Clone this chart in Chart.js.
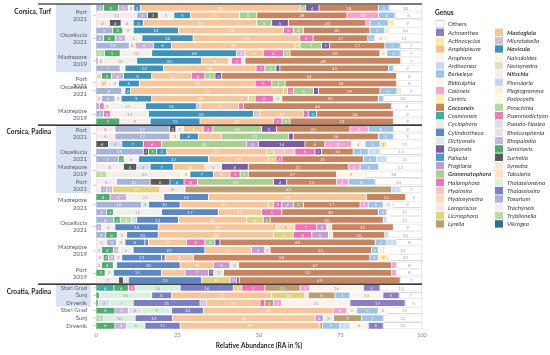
<!DOCTYPE html>
<html>
<head>
<meta charset="utf-8">
<script src="https://cdn.jsdelivr.net/npm/chart.js@4.4.1/dist/chart.umd.min.js"></script>
<style>
  html, body { margin: 0; padding: 0; background: #fff; }
  #wrap { width: 550px; height: 355px; }
</style>
</head>
<body>
<div id="wrap"><canvas id="chart"></canvas></div>
<script>
// one bar per sample, top to bottom: 16 Corsica turf, 21 Corsica padina, 6 Croatia padina
const rowIds = [
  'T1','T2','T3','T4','T5','T6','T7','T8','T9','T10','T11','T12','T13','T14','T15','T16',
  'P1','P2','P3','P4','P5','P6','P7','P8','P9','P10','P11','P12','P13','P14','P15','P16','P17','P18','P19','P20','P21',
  'C1','C2','C3','C4','C5','C6'
];

// site labels on the y axis: [row position, line 1, line 2]
const siteLabels = [
  [1.0, 'Port', '2021'], [4.05, 'Oscellucia', '2021'], [7.0, 'Madrepore', '2019'],
  [9.85, 'Port', '2021'], [10.95, 'Oscellucia', '2021'], [14.1, 'Madrepore', '2019'],
  [16.6, 'Port', '2021'], [19.55, 'Oscellucia', '2021'], [21.5, 'Madrepore', '2019'], [23.45, 'Port', '2021'],
  [25.95, 'Madrepore', '2021'], [28.9, 'Oscellucia', '2021'], [32.1, 'Madrepore', '2019'], [35.1, 'Port', '2019'],
  [37, 'Stari Grad'], [38, 'Šunj'], [39, 'Drvenik'], [40, 'Stari Grad'], [41, 'Šunj'], [42, 'Drvenik']
];
// section headers: [separator above, header position, text]
const sections = [[-0.5, 0.5, 'Corsica, Turf'], [15.5, 16.45, 'Corsica, Padina'], [36.5, 37.5, 'Croatia, Padina']];
const shadedRows = [[0, 8], [16, 24], [37, 39]];

// legend order
const genera = ['Others','Achnanthes','Actinocyclus','Amphipleura','Amphora','Ardissonea','Berkeleya','Biddulphia',
  'Caloneis','Centric','Cocconeis','Cosmioneis','Cyclophora','Cylindrotheca','Dictyoneis','Diploneis','Fallacia',
  'Fragilaria','Grammatophora','Halamphora','Hyalosira','Hyalosynedra','Lampriscus','Licmophora','Lyrella',
  'Mastogloia','Microtabella','Navicula','Naiculoides','Neosynedra','Nitschia','Pinnularia','Plagiogramma',
  'Podocystis','Proschinia','Psammodictyon','Pseudo-Nasleo','Rhoicosphenia','Rhopalodia','Seminavis','Surirella',
  'Synedra','Tabularia','Thalassionema','Thalassiosira','Toxarium','Trachyneis','Tryblionella','Vikingea'];
const genusColors = ['#ffffff','#8c7dc4','#ffec9e','#f9bf90','#fcf3ea','#c5dcef','#9dc3e6','#fef6e4',
  '#f5a3cf','#fff49a','#c9845e','#3fae9c','#e2efda','#5a87c6','#deebdd','#7c5aa6','#4b9bc9',
  '#c59ad4','#a8d08d','#f46fb3','#f4c4c0','#f2dfb4','#f8e4e4','#e1d27e','#b8a070',
  '#fac596','#cdbfdd','#3c93be','#fff5cc','#eadccb','#f4efe8','#bdd7ee','#fff2cc',
  '#fdfbe3','#b3dca2','#f57bbc','#d9dfea','#e4e1ea','#c9b3d9','#4cad6c','#595959',
  '#fbe6da','#fce0c0','#d8f0e0','#7b7ec6','#a8b3d9','#faeaf0','#b5dda0','#2f6e8e'];
const boldGenera = ['Cocconeis','Grammatophora','Mastogloia','Navicula','Nitschia'];

// relative abundance (%) per genus, per row
const cosmioneis = [0,0,0,0,0,0,0,0,0,0,0,0,0,0,0,0,
  0,0,0,0,0,0,0,0,0,0,0,0,0,0,0,0,0,0,0,0,0, 5.5,0,0,0,0,0];
const tryblionella = [0,0,0,0,0,0,2.6,0,0,0,0,0,0,0,0,0,
  0,0,0,0,0,0,3.3,0,0,0,0,0,0,0,0,0,0,0,0,0,0, 0,0,0,0,2.3,0];
const trachyneis = [0,12.5,0,0,0,0,0,0,0,0,1.2,0,1.7,0,0,0,
  5.8,5.8,0,0,0,8.4,0,6.3,1.4,0,0,0,0,0,0,3.3,1.7,2.2,1.7,0,6.9, 0,0,0,0,0,0];
const toxarium = [2.3,3.3,0,5.1,2.3,10.2,0,0.7,7.4,0,0,7.9,4.1,1.0,2.3,0,
  16.7,16.9,0,14.5,6.9,0,0,10.3,1.9,0,14.0,3.3,5.5,1.7,3.0,3.0,0,0,0,0,0, 0,0,0,0,0,0];
const tabularia = [0,0,0,0,0,0,0,0,0,0,2.3,0,0,0,0,0,
  0,0,0,0,0,0,0,0,0,0,0,0,0,0,0,0,0,0,0,0,0, 0,0,0,0,0,0];
const synedra = [0,0,4.1,0,0,1.8,0,1.6,0,1.7,1.2,0,0,0,0,0,
  0,0,0,0,0,0,0,0,0,0,0,0,0,0,0,0,0,0,0,0,0, 0,0,0,0,0,0];
const surirella = [0,3.3,3.6,0,0,0,0,0,0,0,0,0,0,0,0,0,
  2.0,0,3.8,1.6,0,4.1,0,6.1,0,0,0,0,0,0,0,0,0,0,0,0,1.5, 0,0,0,0,0,0];
const seminavis = [4.6,0,0,3.1,3.6,0,4.8,0,0,3.1,0,0,0,0,0,7.3,
  0,0,0,2.5,1.7,0,0,0,0,4.3,0,2.0,1.9,0,3.5,0,3.6,1.6,3.6,2.8,0, 4.4,1.0,0.7,5.8,0,5.8];
const rhopalodia = [3.0,0,0,0,3.2,5.6,0,0,0,3.6,0,0,0,0,0,0,
  0,0,0,0,0,0,0,0,1.8,5.1,0,0,0,0,0,0,1.6,2.0,0,0,0, 0,0,0,4.1,0,3.6];
const rhoicosphenia = [0,0,0,0,0,0,0,0,0,0,0,0,0,0,0,0,
  0,0,0,0,0,0,0,0,0,0,0,0,0,0,0,0,0,0,0,0,0, 0,0,0,4.1,0,0];
const pseudoNasleo = [0,0,0,0,0,0,0,0,0,0,0,0,0,0,0,0,
  0,0,4.1,0,0,4.1,0,0,0,0,0,0,0,0,0,0,0,0,0,0,1.5, 0,0,3.6,0,0,0];
const psammodictyon = [0,0,0,0,0,0,0,0,0,0,0,0,0,1.5,2.2,0,
  0,0,0,0,0,0,0,0,0,0,0,0,0,0,0,0,0,0,0,0,0, 2.1,0,0,0,0,0];
const thalassionema = [0,0,0,0,0,0,0,0,0,0,0,0,0,0,0,0,
  0,0,0,0,0,0,0,0,0,0,2.1,0,0,0,0,0,0,0,0,0,0, 13.8,16.1,7.1,9.2,9.7,5.6];
const proschinia = [0,0,0,0,0,0,0,0,0,0,0,0,0,0,0,0,
  0,0,0,0,0,0,0,0,0,0,0,0,3.5,0,0,0,0,0,0,0,0, 0,0,0,0,0,0];
const plagiogramma = [0,0,0,0,0,0,0,0,0,0,0,0,0,1.8,0,0,
  0,2.9,0,0,0,0,0,0,0,0,0,0,0,0,0,0,0,0,0,0,0, 0,0,0,0,0,0];
const pinnularia = [0,0,0,0,0,0,0,0,0,0,0,0,0,0,0,0,
  0,0,0,0,0,0,0,0,0,0,0,0,1.6,0,0,0,0,0,0,0,0, 0,0,0,0,0,0];
const nitschia = [1.7,4.8,3.7,3.2,5.0,0,9.7,10.2,1.5,0,2.2,1.0,1.9,10.9,11.6,9.3,
  2.3,0,0,0,4.4,0,23.0,0,0,11.4,0,14.8,0,4.1,2.9,2.6,4.5,2.1,1.0,2.5,0, 0,0,0,0,0,0];
const naiculoides = [0,0,0,0,0,0,0,0,0,0,0,0,0,0,0,0,
  0,0,0,0,0,0,2.5,0,0,0,0,0,0,0,0,0,0,0,0,0,0, 0,0,0,0,0,0];
const navicula = [2.0,5.1,3.1,13.9,15.7,5.6,26.0,19.9,11.8,8.7,6.4,1.7,9.4,15.7,32.2,15.3,
  0,5.8,6.6,3.1,21.5,7.1,7.2,4.3,0,0,0,0,0,0,0,0,0,0,0,0,0, 0,0,0,0,0,0];
const cylindrotheca = [0,0,0,0,0,0,0,0,0,0,0,0,0,0,0,0,
  0,0,0,0,0,0,0,0,0,13.7,9.7,17.4,12.8,13.3,9.7,6.1,22.0,12.2,19.5,14.8,22.5, 0,0,0,0,0,0];
const thalassiosira = [0,0,0,0,0,0,0,0,0,0,0,0,0,0,0,0,
  0,0,0,0,0,0,0,0,0,0,0,0,0,0,0,1.1,0,1.1,0,0,0, 16.3,6.1,20.5,9.7,11.5,10.8];
const microtabella = [0,0,0,0,0,0,2.6,0,0,0,0,0,0,1.0,2.0,0,
  0,0,0,0,0,0,0,0,0,0,0,0,0,0,0,0,0,0,0,0,0, 0,0,2.0,0,0,0];
const mastogloia = [49.0,15.0,34.8,32.2,32.7,37.8,5.6,8.2,28.4,12.2,35.5,46.9,29.6,11.8,13.3,22.5,
  6.1,7.1,0,30.7,18.4,9.7,5.1,0,0,48.5,27.1,13.3,20.9,36.3,35.3,11.7,14.3,8.7,10.2,7.2,0, 0,30.7,16.4,39.9,43.7,42.9];
const licmophora = [0,0,0,0,0,1.6,0,0,0,0,0,1.3,2.1,0,0,0,
  0,0,0,2.0,2.3,0,0,0,14.5,0,1.5,0,5.1,0,6.1,0,0,0,0,0,8.7, 2.6,10.2,0,0,0,0];
const lampriscus = [0,0,0,0,0,0,0,1.0,0,0,0,0,0,0,0,0,
  0,0,0,0,0,5.1,0,0,7.7,0,0,0,0,0,0,0,0,0,0,0,0, 0,1.0,0,0,0,0];
const hyalosynedra = [0,0,0,0,0,0,0,0,0,0,0,0,0,0,0,0,
  0,0,0,0,0,0,0,0,0,0,0,0,0,5.6,0,0,0,0,0,0,0, 0,0,0,0,0,0];
const hyalosira = [0,0,0,0,0,0,0,0,0,0,0,0,0,0,0,0,
  0,0,0,6.6,0,0,0,0,0,0,0,0,0,0,0,0,0,0,0,0,0, 0,0,0,0,0,0];
const halamphora = [0,0,0,3.0,4.1,0,6.2,3.1,2.7,4.1,5.1,1.8,5.6,1.5,1.5,2.6,
  2.9,0,5.6,6.2,1.8,0,3.1,4.1,0,0,2.6,6.2,0,6.7,5.7,5.6,0,0,0,0,0, 7.1,0,1.5,0,0,0];
const grammatophora = [1.7,5.3,4.6,3.1,0,6.6,2.0,0,3.4,3.1,4.1,6.1,0,0,0,2.5,
  15.0,20.5,26.1,0,0,0,2.5,23.3,0,0,0,0,0,0,0,3.1,0,0,0,0,0, 0,0,0,0,0,0];
const fragilaria = [0,0,0,0,0,0,0,0,0,0,0,0,0,0,0,0,
  0,0,3.6,0,0,0,0,0,0,0,3.5,0,0,3.1,5.1,0,4.1,0,5.1,7.2,2.0, 0,0,0,0,2.5,0];
const fallacia = [0,0,0,0,0,0,0,0,0,0,0,0,0,0,2.6,0,
  0,0,0,0,0,0,0,0,0,0,0,0,0,0,0,0,0,0,0,0,0, 0,0,0,0,0,0];
const diploneis = [4.1,0,5.1,0,0,2.4,0,0,1.2,2.0,0,1.5,0,0,0,0,
  4.6,1.5,14.3,2.0,0,8.2,0,4.1,0,0,0,0,0,0,0,1.5,0,0,0,1.6,0.8, 0,0,0,0,0,0];
const cyclophora = [0,0,0,0,0,0,0,1.0,0,0,0,0,2.6,0,0,0,
  0,0,0,0,0,0,0,0,0,0,0,0,0,1.5,1.3,0,1.6,0,2.6,3.0,0, 0,0,0,0,3.1,0];
const lyrella = [0,0,0,0,0,0,0,0,0,0,0,0,0,0,0,0,
  0,0,0,0,0,0,0,0,63.4,0,3.1,0,2.1,0,0,0,0,0,0,0,0, 10.8,8.2,2.6,0,8.7,0.8];
const cocconeis = [18.2,27.7,23.8,20.4,16.8,17.0,27.6,47.8,33.3,53.7,34.2,18.9,29.6,45.5,23.5,31.7,
  22.5,26.1,6.1,9.7,25.0,30.7,27.1,15.3,0,12.0,17.4,29.6,34.7,18.9,16.0,47.6,31.1,54.1,47.0,51.6,49.4, 0,0,0,0,0,0];
const caloneis = [0,9.6,1.2,0,0,0,0,0,0,0,0,0,0,0,0,0,
  5.6,0,8.2,0,0,3.6,0,3.6,0,0,2.5,0,0,0,0,0,0,0,1.5,1.5,0, 3.0,0,2.6,4.1,0,0];
const biddulphia = [0,0,0,0,0,0,2.1,0,0,0,0,0,0,0,0,0,
  0,0,4.1,0,0,0,8.7,0,0,0,0,0,0,0,0,0,0,0,0,0,0, 0,0,0,3.0,0,0];
const berkeleya = [3.3,5.1,5.7,4.6,2.1,4.7,4.1,0,1.5,0,0,5.2,1.5,0,0,0,
  7.7,4.6,4.6,4.6,4.1,5.6,0,8.2,0,0,4.6,2.6,0,0,0,3.6,2.1,2.6,0,0,0, 0,4.6,0,6.7,6.6,5.3];
const ardissonea = [0,0,0,0,0,0,0,0,0,0,0,0,0,0,0,0,
  0,0,0,3.6,3.1,0,0,0,2.6,0,0,0,1.1,0,1.1,3.0,0,0,0,0,0, 0,0,0,0,0,3.1];
const amphora = [0,0,0,0,3.6,0,0,0,0,0,0,0,0,0,0,0,
  0,0,0,0,0,0,0,0,0,0,3.1,0,0,0,0,0,1.5,0,0,0,0, 16.4,10.1,20.9,2.6,0,5.6];
const actinocyclus = [0,0,1.5,1.1,0,0,0,0,0,0,0,1.0,0,0,0,0,
  0,0,2.1,0,0,0,0,0,0,0,0,0,0,0,0,0,0,3.1,0,0,0, 0,0,0,0,0,0];
const achnanthes = [0,0,0,0,0,0,0,0,0,0,0,0,0,0,0,0,
  0,0,0,0,0,0,0,0,0,0,0,0,0,0,0,0,0,0,0,0,0, 5.1,5.0,16.9,0,0,4.6];
const others = [10.1,8.3,8.8,10.3,10.9,6.7,6.7,6.5,8.8,7.8,7.8,6.7,11.9,9.3,8.8,8.8,
  8.8,8.8,10.8,12.9,10.8,13.4,17.5,14.4,6.7,5.0,8.8,10.8,10.8,8.8,10.3,7.8,11.9,10.3,7.8,7.8,6.7, 12.9,7.0,5.2,10.8,11.9,11.9];

// stacking order, left to right
const stack = [
  ['Cosmioneis', cosmioneis], ['Tryblionella', tryblionella], ['Trachyneis', trachyneis], ['Toxarium', toxarium],
  ['Tabularia', tabularia], ['Synedra', synedra], ['Surirella', surirella], ['Seminavis', seminavis],
  ['Rhopalodia', rhopalodia], ['Rhoicosphenia', rhoicosphenia], ['Pseudo-Nasleo', pseudoNasleo],
  ['Psammodictyon', psammodictyon], ['Thalassionema', thalassionema], ['Proschinia', proschinia],
  ['Plagiogramma', plagiogramma], ['Pinnularia', pinnularia], ['Nitschia', nitschia], ['Naiculoides', naiculoides],
  ['Navicula', navicula], ['Cylindrotheca', cylindrotheca], ['Thalassiosira', thalassiosira],
  ['Microtabella', microtabella], ['Mastogloia', mastogloia], ['Licmophora', licmophora], ['Lampriscus', lampriscus],
  ['Hyalosynedra', hyalosynedra], ['Hyalosira', hyalosira], ['Halamphora', halamphora],
  ['Grammatophora', grammatophora], ['Fragilaria', fragilaria], ['Fallacia', fallacia], ['Diploneis', diploneis],
  ['Cyclophora', cyclophora], ['Lyrella', lyrella], ['Cocconeis', cocconeis], ['Caloneis', caloneis],
  ['Biddulphia', biddulphia], ['Berkeleya', berkeleya], ['Ardissonea', ardissonea], ['Amphora', amphora],
  ['Actinocyclus', actinocyclus], ['Achnanthes', achnanthes], ['Others', others]
];

const FONT = 'Lato, "Open Sans", sans-serif';
Chart.defaults.font.family = FONT;

function colorOf(name) { return genusColors[genera.indexOf(name)]; }
function isLight(hex) {
  const n = parseInt(hex.slice(1), 16);
  return (0.299 * (n >> 16) + 0.587 * ((n >> 8) & 255) + 0.114 * (n & 255)) / 255 > 0.87;
}

const datasets = stack.map(([name, values]) => ({
  label: name,
  data: values.map(v => v === 0 ? null : v),
  backgroundColor: colorOf(name),
  borderColor: name === 'Others' ? '#bfbfbf' : 'rgba(255,255,255,0.7)',
  borderWidth: name === 'Others' ? 0.6 : 0.4,
  borderSkipped: false,
  barPercentage: 0.88,
  categoryPercentage: 1
}));

// small value labels inside the segments
const segmentLabels = {
  id: 'segmentLabels',
  afterDatasetsDraw(chart) {
    const ctx = chart.ctx;
    ctx.save();
    ctx.font = '4.6px ' + FONT;
    ctx.textAlign = 'center';
    ctx.textBaseline = 'middle';
    chart.data.datasets.forEach((ds, di) => {
      chart.getDatasetMeta(di).data.forEach((bar, i) => {
        const v = ds.data[i];
        if (!v || v < 1) return;
        if (Math.abs(bar.x - bar.base) < 5) return;
        ctx.fillStyle = isLight(ds.backgroundColor) ? '#a0a0a0' : 'rgba(255,255,255,0.85)';
        ctx.fillText(Math.round(v), (bar.x + bar.base) / 2, bar.y + 0.3);
      });
    });
    ctx.restore();
  }
};

// site labels, section headers, separators and the genus legend
const frame = {
  id: 'frame',
  beforeDraw(chart) {
    const ctx = chart.ctx, ys = chart.scales.y, area = chart.chartArea;
    ctx.save();
    ctx.fillStyle = '#dae3f3';
    shadedRows.forEach(([a, b]) => {
      const y1 = ys.getPixelForValue(a - 0.5), y2 = ys.getPixelForValue(b + 0.5);
      ctx.fillRect(56, y1, area.left - 5 - 56, y2 - y1);
    });
    ctx.restore();
  },
  afterDraw(chart) {
    const ctx = chart.ctx, ys = chart.scales.y, area = chart.chartArea;
    ctx.save();

    // site labels
    ctx.font = '6px ' + FONT;
    ctx.fillStyle = '#595959';
    ctx.textAlign = 'right';
    ctx.textBaseline = 'middle';
    ctx.strokeStyle = '#a6a6a6';
    ctx.lineWidth = 0.6;
    siteLabels.forEach(([pos, l1, l2]) => {
      const y = ys.getPixelForValue(pos);
      const x = area.left - 9;
      if (l2) {
        ctx.fillText(l1, x, y - 3.7);
        ctx.fillText(l2, x, y + 3.7);
      } else {
        ctx.fillText(l1, x, y);
      }
      ctx.beginPath();
      ctx.moveTo(area.left - 3, y);
      ctx.lineTo(area.left, y);
      ctx.stroke();
    });

    // section headers and separators
    ctx.font = 'bold 6.6px ' + FONT;
    ctx.fillStyle = '#262626';
    ctx.strokeStyle = '#000';
    ctx.lineWidth = 1.2;
    sections.forEach(([sep, pos, text]) => {
      ctx.fillText(text, 51, ys.getPixelForValue(pos));
      const y = ys.getPixelForValue(sep);
      ctx.beginPath();
      ctx.moveTo(38, y);
      ctx.lineTo(area.right, y);
      ctx.stroke();
    });

    // legend
    const lx = area.right + 14;
    ctx.textAlign = 'left';
    ctx.fillStyle = '#262626';
    ctx.font = 'bold 6.6px ' + FONT;
    ctx.fillText('Genus', lx - 1, area.top + 8.5);
    genera.forEach((name, i) => {
      const col = i < 25 ? 0 : 1;
      const row = i < 25 ? i : i - 24;
      const x = lx + col * 59;
      const y = area.top + 20 + row * 8.33;
      ctx.fillStyle = genusColors[i];
      ctx.fillRect(x, y - 3.7, 8, 7.4);
      if (name === 'Others') {
        ctx.strokeStyle = '#bfbfbf';
        ctx.lineWidth = 0.6;
        ctx.strokeRect(x, y - 3.7, 8, 7.4);
      }
      const bold = boldGenera.includes(name) ? 'bold ' : '';
      const ital = name === 'Others' ? '' : 'italic ';
      ctx.font = ital + bold + '6.2px ' + FONT;
      ctx.fillStyle = '#404040';
      ctx.fillText(name, x + 12, y + 0.3);
    });
    ctx.restore();
  }
};

new Chart(document.getElementById('chart'), {
  type: 'bar',
  data: { labels: rowIds, datasets: datasets },
  options: {
    indexAxis: 'y',
    responsive: true,
    maintainAspectRatio: false,
    animation: false,
    layout: { padding: { left: 96, right: 128, top: 4, bottom: 5 } },
    plugins: { legend: { display: false }, tooltip: { enabled: false } },
    scales: {
      x: {
        stacked: true,
        min: 0,
        max: 100,
        grid: { display: false, drawTicks: false },
        border: { display: false },
        ticks: { stepSize: 25, padding: 2, color: '#7f7f7f', font: { size: 5.5 } },
        title: {
          display: true,
          text: 'Relative Abundance (RA in %)',
          color: '#262626',
          font: { size: 6.6, weight: 'bold' },
          padding: { top: 2, bottom: 0 }
        }
      },
      y: {
        stacked: true,
        grid: { display: false, drawTicks: false },
        border: { display: true, color: '#bfbfbf', width: 0.6 },
        ticks: { display: false }
      }
    }
  },
  plugins: [frame, segmentLabels]
});
</script>
</body>
</html>
